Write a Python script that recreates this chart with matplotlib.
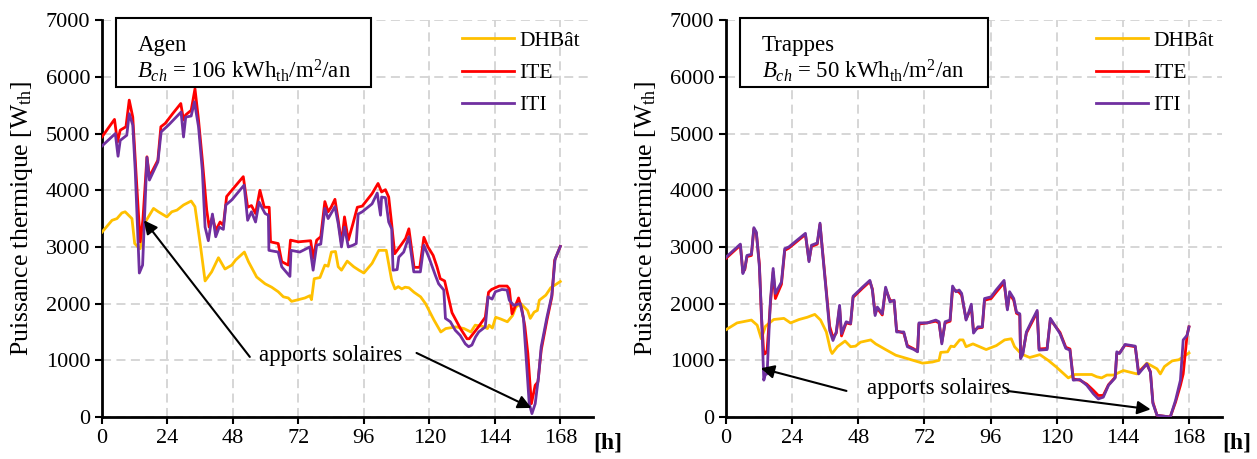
import matplotlib.pyplot as plt
from matplotlib.patches import Rectangle

plt.rcParams['font.family'] = ['Liberation Serif', 'DejaVu Serif']
plt.rcParams['mathtext.fontset'] = 'custom'
plt.rcParams['mathtext.rm'] = 'Liberation Serif'
plt.rcParams['mathtext.it'] = 'Liberation Serif:italic'

# ---- Agen ----
agen_dh_h = [0, 3.7, 5.5, 7.3, 8.5, 11, 12, 13.2, 14, 15.9, 18.9, 20.7, 23.8, 25.6, 27.5, 29.9, 32.7, 34.1, 36,
             37.8, 40.2, 42.7, 45.1, 47.6, 49, 52.2, 53.7, 56.7, 59.8, 62.2, 64.6, 66.5, 68.3, 69.5, 72, 74.4,
             76.2, 76.8, 77.8, 79.9, 81.7, 82.9, 84.1, 85.6, 86.6, 87.8, 89.9, 92.3, 94.2, 96, 99, 101.5, 104.2,
             106.2, 107.4, 108.6, 109.9, 111.1, 112.5, 114.4, 116.8, 118.6, 121.7, 124.2, 126, 129.7, 132.7,
             135.2, 136.8, 139.5, 141.3, 141.9, 143.1, 144.3, 146.1, 148.6, 150.5, 151.7, 153.5, 156, 157,
             158.4, 159.6, 160.3, 162.7, 164.5, 168]
agen_dh = [3260, 3470, 3500, 3600, 3620, 3500, 3060, 3000, 2970, 3440, 3680, 3620, 3530, 3620, 3650, 3740, 3810,
           3710, 3060, 2400, 2560, 2810, 2610, 2680, 2770, 2910, 2740, 2470, 2350, 2290, 2210, 2120, 2100, 2040,
           2070, 2100, 2140, 2070, 2440, 2460, 2680, 2660, 2910, 2920, 2650, 2590, 2750, 2650, 2590, 2540, 2710,
           2940, 2940, 2410, 2260, 2300, 2260, 2290, 2280, 2200, 2120, 2000, 1710, 1500, 1560, 1590, 1560, 1500,
           1620, 1600, 1560, 1620, 1570, 1760, 1730, 1680, 1790, 1940, 2000, 1880, 1740, 1850, 1880, 2060, 2150,
           2280, 2390]

agen_ite_h = [0, 4.6, 5.7, 6.7, 8.8, 10, 11.3, 12.5, 14, 15, 16.5, 17.4, 20.5, 21.6, 23.2, 25.9, 28.9, 29.9, 30.7,
              32.7, 34.1, 35.4, 36.8, 38.4, 39.3, 40.5, 41.7, 43.3, 44.5, 45.7, 47.6, 51.8, 53.4, 54.8, 56.3,
              57.9, 59.5, 61.3, 61.8, 64.6, 65.9, 68.3, 69.1, 72, 76.5, 77.4, 78.7, 80.2, 81.7, 82.9, 84, 85.4,
              86.6, 87.8, 88.9, 90.3, 92, 93.6, 95.4, 99, 101.2, 102.5, 103.9, 105.1, 106.2, 107.3, 110, 111.3,
              112.5, 114.4, 116.5, 118, 119.5, 121.4, 122.8, 124, 125.6, 128.3, 131.4, 133.8, 134.6, 138, 140.5,
              141.7, 142.8, 145.6, 148.5, 149.3, 150.3, 152.7, 153.9, 155, 156.1, 157.4, 158.8, 159.8, 161,
              163.1, 164.9, 165.9, 168]
agen_ite = [4940, 5250, 4850, 5060, 5120, 5590, 5290, 4300, 3090, 3470, 4590, 4240, 4530, 5120, 5180, 5350, 5530,
            5240, 5330, 5410, 5790, 5240, 4530, 3650, 3350, 3530, 3290, 3440, 3380, 3890, 4000, 4240, 3700, 3730,
            3590, 4000, 3700, 3700, 3090, 3060, 2740, 2680, 3120, 3090, 3110, 2800, 3120, 3180, 3800, 3620, 3700,
            3840, 3470, 3060, 3530, 3120, 3410, 3700, 3720, 3940, 4120, 3970, 4010, 3880, 3400, 2880, 3060, 3150,
            3320, 2640, 2640, 3170, 3000, 2850, 2650, 2440, 2400, 1840, 1560, 1380, 1380, 1590, 1760, 2200, 2250,
            2310, 2310, 2260, 1820, 2100, 1900, 1600, 1120, 235, 560, 620, 1180, 1710, 2120, 2760, 3010]

agen_iti_h = [0, 4.9, 5.9, 6.7, 9.1, 10, 11.3, 12.2, 13.7, 14.9, 16.5, 17.4, 20.5, 21.7, 24.4, 29, 29.9, 30.7,
              32.7, 33.9, 35.4, 36.8, 37.8, 39, 40.5, 41.7, 43, 44.5, 45.4, 47.6, 52.1, 53.4, 54.8, 56.3, 57.6,
              59.8, 61, 61.2, 64.6, 65.9, 68.9, 69.3, 72.5, 76.2, 77.4, 78.7, 80.2, 81.7, 82.9, 85.4, 86.6, 87.8,
              88.9, 90.3, 92, 93.2, 93.9, 95.4, 99, 100.9, 102.1, 102.5, 103.9, 105.1, 106.2, 106.7, 108.2,
              108.8, 110.6, 112.5, 114.3, 116.7, 118, 119.8, 122.2, 123.4, 125.3, 125.9, 127.7, 129.5, 131.3,
              133.2, 134.4, 135.6, 136.9, 138.1, 140.5, 141.5, 143, 144.2, 146.6, 148.5, 149.3, 150.9, 153.3,
              154.5, 155.8, 156.6, 157.6, 158.8, 159.4, 160, 161, 163.1, 164.9, 166.1, 168]
agen_iti = [4780, 5000, 4600, 4880, 4970, 5350, 5150, 4350, 2540, 2680, 4580, 4180, 4500, 5030, 5150, 5380, 4940,
            5290, 5310, 5560, 5120, 4350, 3350, 3110, 3580, 3180, 3350, 3310, 3740, 3830, 4090, 3470, 3620, 3440,
            3790, 3590, 3560, 2940, 2910, 2650, 2480, 2940, 2910, 3000, 2590, 3030, 3050, 3680, 3500, 3710, 3410,
            3000, 3350, 3000, 3030, 3060, 3580, 3620, 3760, 3950, 3560, 3880, 3870, 3440, 3320, 2590, 2600, 2820,
            2910, 3180, 2560, 2560, 3030, 2820, 2500, 2350, 2240, 1740, 1680, 1530, 1440, 1290, 1240, 1270, 1410,
            1500, 1590, 2120, 2080, 2210, 2250, 2240, 2060, 1970, 2000, 1740, 820, 235, 60, 235, 470, 700, 1240,
            1760, 2150, 2790, 3010]

# ---- Trappes ----
trap_dh_h = [0, 4, 9.2, 11.3, 12.8, 14.3, 17.3, 21, 23.4, 26.5, 29.5, 32.2, 34.3, 36.4, 37.9, 38.5, 40.4, 43.2,
             45.2, 47, 48.8, 52.5, 54.3, 57.9, 61.6, 65.8, 71.3, 74.9, 77.3, 77.9, 80.4, 81.6, 82.8, 84.8, 86,
             87.1, 89.6, 94.4, 98.1, 101.1, 103.5, 104.7, 107.2, 110.2, 113.9, 116.9, 119.9, 124.2, 126.6, 132.7,
             134.5, 136.3, 138.2, 140.6, 144.2, 149.1, 152.7, 156.4, 157.6, 159.1, 161.9, 164.3, 168]
trap_dh = [1540, 1660, 1710, 1620, 1380, 1600, 1720, 1740, 1660, 1720, 1760, 1810, 1710, 1500, 1180, 1120, 1240,
           1340, 1240, 1250, 1320, 1360, 1290, 1190, 1090, 1030, 950, 970, 1000, 1140, 1150, 1250, 1240, 1360,
           1360, 1240, 1290, 1190, 1260, 1360, 1380, 1240, 1110, 1050, 1100, 1000, 880, 690, 750, 750, 710, 690,
           740, 740, 820, 760, 950, 850, 760, 890, 990, 1010, 1130]

trap_h = [0, 5.2, 6.1, 6.8, 7.6, 9.2, 10.1, 11, 12.1, 12.8, 13.7, 14.3, 14.9, 16.1, 17.1, 17.9, 20.1, 21.3, 22.8,
          25.8, 28.8, 30.1, 31, 33.1, 34.1, 34.9, 36.4, 37.6, 38.8, 40, 41.2, 41.9, 43.6, 45.2, 46.1, 49.5, 52.2,
          53.1, 54.1, 54.9, 56.7, 57.9, 59.5, 61, 61.9, 64.5, 65.8, 68.2, 69.5, 70, 73, 76.1, 77.3, 78.3, 79.5,
          81.3, 82.2, 83.4, 84.6, 85.5, 87.1, 88.1, 89, 89.8, 91.4, 93, 93.8, 96.2, 98, 100.9, 102.1, 102.9,
          104.4, 105.4, 106.6, 106.9, 107.7, 109, 110.8, 112.9, 113.6, 116.5, 117.7, 121.2, 123.3, 124.8, 126,
          128.4, 130.9, 133.3, 135.1, 136.9, 138.8, 141.2, 141.8, 142.8, 144.8, 148.5, 149.7, 152.7, 154, 154.9,
          156.4, 161.2, 163.1, 164.9, 165.9, 167.3, 168]
trap_iti = [2820, 3050, 2530, 2620, 2850, 2870, 3340, 3260, 2650, 1880, 650, 760, 760, 2060, 2620, 2180, 2380, 2970,
            3000, 3120, 3240, 2740, 3030, 3070, 3420, 2970, 2180, 1530, 1350, 1500, 1970, 1470, 1680, 1650, 2130,
            2290, 2410, 2240, 1790, 1940, 1820, 2290, 2030, 2060, 1500, 1500, 1240, 1190, 1150, 1660, 1660, 1710,
            1680, 1290, 1680, 1710, 2310, 2210, 2240, 2180, 1710, 1850, 1990, 1480, 1590, 1590, 2090, 2120, 2240,
            2410, 1890, 2210, 2090, 1850, 1820, 1030, 1110, 1500, 1680, 1880, 1180, 1190, 1740, 1470, 1210, 1180,
            650, 660, 560, 410, 320, 350, 560, 690, 1150, 1120, 1280, 1250, 760, 940, 790, 240, 30, 0, 290, 650,
            1360, 1440, 1590]
trap_ite = [2800, 3030, 2560, 2600, 2830, 2850, 3320, 3240, 2700, 1820, 1110, 1120, 1180, 2000, 2560, 2090, 2340,
            2940, 2980, 3100, 3220, 2760, 3010, 3050, 3400, 2990, 2220, 1600, 1400, 1480, 1940, 1430, 1660, 1640,
            2110, 2270, 2390, 2260, 1820, 1920, 1800, 2260, 2060, 2040, 1520, 1480, 1260, 1200, 1160, 1640, 1660,
            1690, 1660, 1320, 1660, 1690, 2250, 2230, 2200, 2150, 1730, 1830, 1950, 1520, 1570, 1580, 2060, 2090,
            2200, 2370, 1910, 2170, 2060, 1830, 1800, 1060, 1130, 1480, 1650, 1850, 1200, 1210, 1720, 1490, 1230,
            1200, 670, 650, 580, 470, 380, 380, 570, 700, 1120, 1130, 1270, 1240, 790, 930, 800, 260, 30, 0, 260,
            560, 760, 1440, 1590]

hour_ticks = [0, 24, 48, 72, 96, 120, 144, 168]

C_DH = '#FFC000'
C_ITE = '#FF0000'
C_ITI = '#7030A0'

fig = plt.figure(figsize=(12.57, 4.59), dpi=100)
ax1 = fig.add_axes([0.0811, 0.0915, 0.3907, 0.8645])
ax2 = fig.add_axes([0.5776, 0.0915, 0.3946, 0.8645])


def draw_panel(ax, dh_h, dh, ite_h, ite, iti_h, iti, city, bch, box_right, leg_x):
    ax.plot(dh_h, dh, color=C_DH, lw=2, label='DHBât', zorder=3)
    ax.plot(ite_h, ite, color=C_ITE, lw=2, label='ITE', zorder=4)
    ax.plot(iti_h, iti, color=C_ITI, lw=2, label='ITI', zorder=5)
    ax.set_xlim(0, 180)
    ax.set_ylim(0, 7000)
    ax.set_xticks(hour_ticks)
    ax.set_yticks(range(0, 7001, 1000))
    ax.tick_params(labelsize=16, length=5, width=1.5)
    ax.grid(True, color='#d3d3d3', ls=(0, (5, 3)), lw=1.3)
    ax.set_axisbelow(True)
    for s in ['top', 'right']:
        ax.spines[s].set_visible(False)
    for s in ['left', 'bottom']:
        ax.spines[s].set_linewidth(2)
    ax.set_ylabel(r'Puissance thermique [W$_{\mathrm{th}}$]', fontsize=18.5, labelpad=8)
    ax.text(1.0, -0.065, '[h]', transform=ax.transAxes, fontsize=17, fontweight='bold',
            ha='left', va='center')
    ax.add_patch(Rectangle((0.028, 0.832), box_right - 0.028, 0.174, transform=ax.transAxes,
                           facecolor='white', edgecolor='black', lw=1.5, clip_on=False, zorder=10))
    ax.text(0.072, 0.937, city, transform=ax.transAxes, fontsize=16.5, va='center', zorder=11)
    ax.text(0.072, 0.872, r'$B_{ch}$ = ' + bch + r' kWh$_{\mathrm{th}}$/m$^{2}$/an',
            transform=ax.transAxes, fontsize=16.5, va='center', zorder=11)
    ax.legend(loc='upper right', bbox_to_anchor=(leg_x, 1.022), frameon=False, fontsize=15.5,
              handlelength=2.4, labelspacing=0.56, handletextpad=0.25)


draw_panel(ax1, agen_dh_h, agen_dh, agen_ite_h, agen_ite, agen_iti_h, agen_iti, 'Agen', '106', 0.548, 1.012)
draw_panel(ax2, trap_dh_h, trap_dh, trap_h, trap_ite, trap_h, trap_iti, 'Trappes', '50', 0.528, 1.022)

arrow = dict(arrowstyle='-|>', color='black', lw=1.5, mutation_scale=20, shrinkA=0, shrinkB=0)

ax1.text(84, 1090, 'apports solaires', fontsize=16.5, ha='center', va='center', zorder=8)
ax1.annotate('', xy=(15.4, 3470), xytext=(54.2, 1060), arrowprops=arrow, zorder=7)
ax1.annotate('', xy=(157.4, 160), xytext=(115.3, 1130), arrowprops=arrow, zorder=7)

ax2.text(77, 510, 'apports solaires', fontsize=16.5, ha='center', va='center', zorder=8)
ax2.annotate('', xy=(12.6, 860), xytext=(43.7, 460), arrowprops=arrow, zorder=7)
ax2.annotate('', xy=(154.1, 135), xytext=(102, 460), arrowprops=arrow, zorder=7)

fig.savefig('out.png', dpi=100)
